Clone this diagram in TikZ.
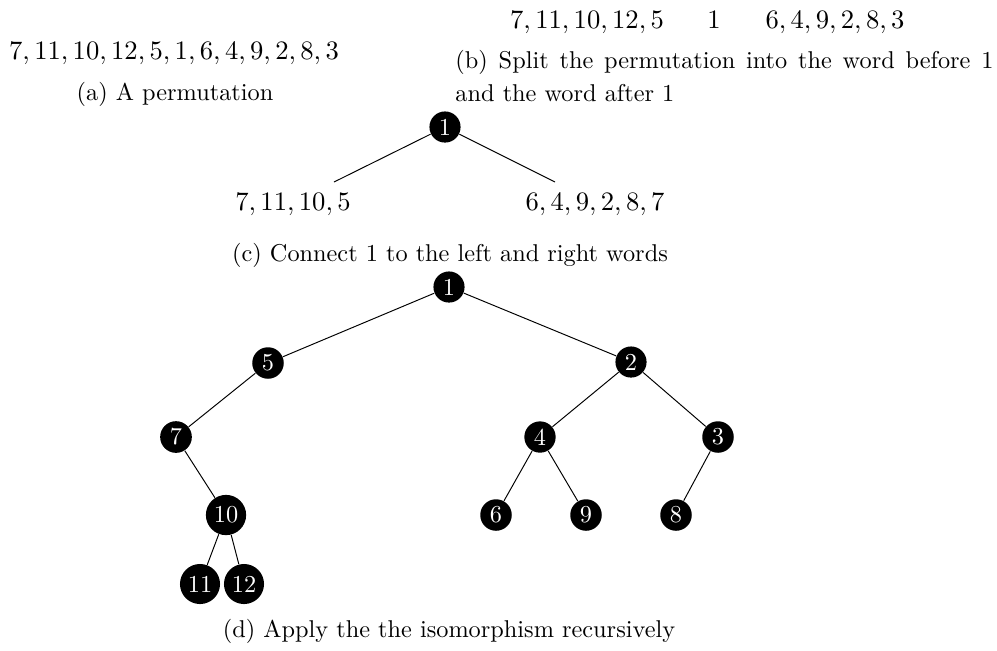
\documentclass[tikz,border=0pt]{standalone}
\begin{document}
\begin{tikzpicture}[x=0.4115pt,y=-0.4115pt,
  txt/.style={inner sep=0pt,anchor=base,font=\fontsize{11}{13}\selectfont},
  capt/.style={inner sep=0pt,anchor=base,font=\fontsize{10}{13.4}\selectfont},
  vtx/.style={circle,fill=black,text=white,inner sep=1.6pt,font=\fontsize{10}{12}\selectfont},
  conn/.style={draw=black,line width=0.4pt}]
\useasboundingbox (0,0) rectangle (997,650);
% (a)
\node[txt] (pa) at (174,59) {$7,11,10,12,5,1,6,4,9,2,8,3$};
\node[capt] (ca) at (175,100) {(a) A permutation};
% (b)
\node[txt] (bl) at (587,28) {$7,11,10,12,5$};
\node[txt] (bo) at (714,28) {$1$};
\node[txt] (br) at (835,28) {$6,4,9,2,8,3$};
\node[capt,anchor=north west,text width=221.4pt,align=justify] (cb) at (455,50)
  {(b) Split the permutation into the word before 1 and the word after 1};
% (c)
\node[vtx] (c1) at (445,127) {1};
\node[txt] (cL) at (293,210) {$7,11,10,5$};
\node[txt] (cR) at (595,210) {$6,4,9,2,8,7$};
\coordinate (cl) at (334,182);
\coordinate (cr) at (555,182);
\draw[conn] (c1) -- (cl);
\draw[conn] (c1) -- (cr);
\node[capt] (cc) at (450,261) {(c) Connect 1 to the left and right words};
% (d)
\node[vtx] (n1) at (449,287) {1};
\node[vtx] (n5) at (268,363) {5};
\node[vtx] (n2) at (631,362) {2};
\node[vtx] (n7) at (176,437) {7};
\node[vtx] (n4) at (540,437) {4};
\node[vtx] (n3) at (718,437) {3};
\node[vtx] (n10) at (226,515) {10};
\node[vtx] (n6) at (496,515) {6};
\node[vtx] (n9) at (586,515) {9};
\node[vtx] (n8) at (676,515) {8};
\node[vtx] (n11) at (200,584) {11};
\node[vtx] (n12) at (244,584) {12};
\draw[conn] (n1) -- (n5);
\draw[conn] (n1) -- (n2);
\draw[conn] (n5) -- (n7);
\draw[conn] (n7) -- (n10);
\draw[conn] (n10) -- (n11);
\draw[conn] (n10) -- (n12);
\draw[conn] (n2) -- (n4);
\draw[conn] (n2) -- (n3);
\draw[conn] (n4) -- (n6);
\draw[conn] (n4) -- (n9);
\draw[conn] (n3) -- (n8);
\node[capt] (cd) at (449,637) {(d) Apply the the isomorphism recursively};
\end{tikzpicture}
\end{document}
